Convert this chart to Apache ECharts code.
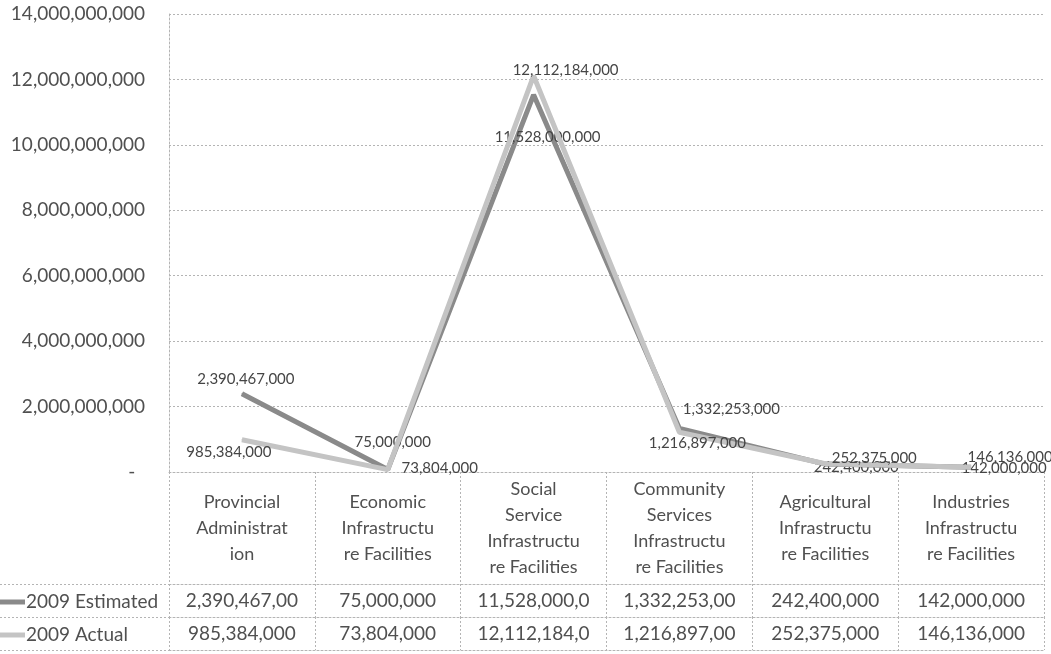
<!DOCTYPE html>
<html>
<head>
<meta charset="utf-8">
<script src="https://cdn.jsdelivr.net/npm/echarts@6/dist/echarts.min.js"></script>
<style>
html,body{margin:0;padding:0;background:#fff;}
#chart{width:1051px;height:654px;}
</style>
</head>
<body>
<div id="chart"></div>
<script>
// ---- data ----
const categories = [
  'Provincial\nAdministrat\nion',
  'Economic\nInfrastructu\nre Facilities',
  'Social\nService\nInfrastructu\nre Facilities',
  'Community\nServices\nInfrastructu\nre Facilities',
  'Agricultural\nInfrastructu\nre Facilities',
  'Industries\nInfrastructu\nre Facilities'
];
const seriesNames = ['2009 Estimated', '2009 Actual'];
const estimated = [2390467000, 75000000, 11528000000, 1332253000, 242400000, 142000000];
const actual = [985384000, 73804000, 12112184000, 1216897000, 252375000, 146136000];
const yMin = 0, yMax = 14000000000, yInterval = 2000000000;

// ---- styles (label placements, not data) ----
const estLabelOffsets = [[4,-15],[5,-27],[14,42],[52,-19],[31,3],[33,1]];
const actLabelOffsets = [[-13,12],[52,-1],[32,-6],[18,11],[49,-6],[39,-10]];
const FONT = 'Lato';
const textColor = '#505050';
const gridColor = '#b4b4b4';
const estColor = '#8a8a8a';
const actColor = '#c4c4c4';

const fmt = v => Number(v).toLocaleString('en-US');
const cell = v => fmt(v).slice(0, 12); // Excel cuts overflowing cell text

const chart = echarts.init(document.getElementById('chart'), null, {renderer: 'canvas'});
const dotted = { color: gridColor, width: 1, type: [2, 2] };

function offsetLayout(offsets) {
  return function (params) {
    const o = offsets[params.dataIndex] || [0, 0];
    return { dx: o[0], dy: o[1], hideOverlap: false };
  };
}

chart.setOption({
  animation: false,
  backgroundColor: '#ffffff',
  textStyle: { fontFamily: FONT },
  legend: {
    orient: 'vertical',
    left: -3,
    top: 590,
    padding: 0,
    itemGap: 9,
    itemWidth: 28,
    itemHeight: 5,
    icon: 'rect',
    data: seriesNames,
    textStyle: { fontFamily: FONT, fontSize: 19, color: textColor, lineHeight: 24, padding: [0,0,0,-4] },
    selectedMode: false
  },
  grid: [
    { left: 169, right: 7, top: 14, bottom: 182, containLabel: false },
    { left: 0, width: 169, top: 584, height: 66, containLabel: false }
  ],
  xAxis: [
    {
      gridIndex: 0, type: 'category', data: categories, boundaryGap: true,
      axisLine: { show: true, lineStyle: dotted },
      axisTick: { show: true, length: 112, lineStyle: dotted },
      axisLabel: { interval: 0, margin: 56, verticalAlign: 'middle', fontFamily: FONT, fontSize: 18, lineHeight: 26, color: textColor, align: 'center' },
      splitLine: { show: false }
    },
    {
      gridIndex: 0, type: 'category', data: categories, boundaryGap: true, position: 'bottom', offset: 112,
      axisLine: { show: true, lineStyle: dotted },
      axisTick: { show: true, length: 33, lineStyle: dotted },
      axisLabel: { interval: 0, margin: 17, verticalAlign: 'middle', fontFamily: FONT, fontSize: 19, color: textColor,
        formatter: (v, i) => cell(estimated[i]) }
    },
    {
      gridIndex: 0, type: 'category', data: categories, boundaryGap: true, position: 'bottom', offset: 145,
      axisLine: { show: true, lineStyle: dotted },
      axisTick: { show: true, length: 33, lineStyle: dotted },
      axisLabel: { interval: 0, margin: 17, verticalAlign: 'middle', fontFamily: FONT, fontSize: 19, color: textColor,
        formatter: (v, i) => cell(actual[i]) }
    },
    {
      gridIndex: 0, type: 'category', data: categories, boundaryGap: true, position: 'bottom', offset: 178,
      axisLine: { show: true, lineStyle: dotted },
      axisTick: { show: false }, axisLabel: { show: false }
    },
    { gridIndex: 1, type: 'value', show: false }
  ],
  yAxis: [
    {
      gridIndex: 0, type: 'value', min: yMin, max: yMax, interval: yInterval,
      axisLine: { show: true, lineStyle: dotted },
      axisTick: { show: false },
      axisLabel: { margin: 24, fontFamily: FONT, fontSize: 19, color: textColor,
        formatter: v => v === 0 ? '-  ' : fmt(v) },
      splitLine: { show: true, lineStyle: dotted }
    },
    {
      gridIndex: 1, type: 'category', data: seriesNames, inverse: true, boundaryGap: true,
      axisLine: { show: false }, axisTick: { show: false }, axisLabel: { show: false },
      splitLine: { show: true, lineStyle: dotted }
    }
  ],
  series: [
    {
      name: seriesNames[0], type: 'line', xAxisIndex: 0, yAxisIndex: 0,
      data: estimated,
      symbol: 'circle', symbolSize: 1, showSymbol: true,
      itemStyle: { color: estColor },
      lineStyle: { color: estColor, width: 5 },
      label: { show: true, position: 'inside', fontFamily: FONT, fontSize: 15, color: '#454545', formatter: p => fmt(p.value) },
      labelLayout: offsetLayout(estLabelOffsets),
      z: 3
    },
    {
      name: seriesNames[1], type: 'line', xAxisIndex: 0, yAxisIndex: 0,
      data: actual,
      symbol: 'circle', symbolSize: 1, showSymbol: true,
      itemStyle: { color: actColor },
      lineStyle: { color: actColor, width: 5 },
      label: { show: true, position: 'inside', fontFamily: FONT, fontSize: 15, color: '#454545', formatter: p => fmt(p.value) },
      labelLayout: offsetLayout(actLabelOffsets),
      z: 4
    }
  ]
});
</script>
</body>
</html>
